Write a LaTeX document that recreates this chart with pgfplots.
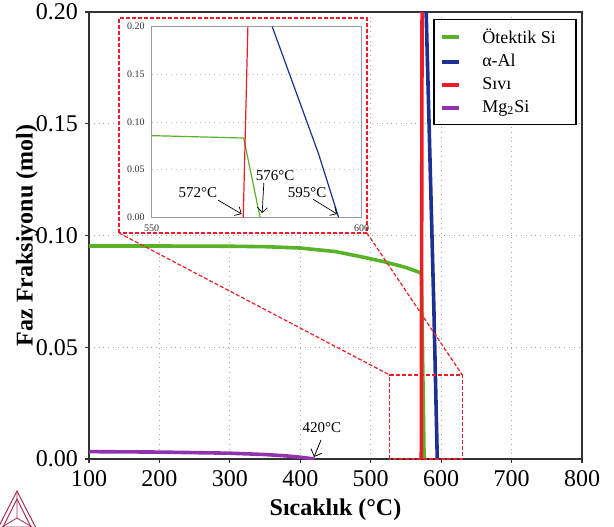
\documentclass[border=0pt]{standalone}
\usepackage{fontspec}
\setmainfont{Liberation Serif}
\usepackage{pgfplots}
\pgfplotsset{compat=1.18}
\usetikzlibrary{arrows.meta}
\definecolor{cgreen}{RGB}{88,178,42}
\definecolor{cblue}{RGB}{30,48,145}
\definecolor{cred}{RGB}{235,30,40}
\definecolor{cpurple}{RGB}{145,50,175}
\definecolor{clogo}{RGB}{170,45,90}

\begin{document}
\begin{tikzpicture}
\path[use as bounding box] (-44.5pt,-33.5pt) rectangle (262.5pt,229.5pt);

% main axis
\begin{axis}[
  scale only axis, width=246.5pt, height=223.5pt,
  xmin=100, xmax=800, ymin=0, ymax=0.2,
  xtick={100,200,300,400,500,600,700,800},
  ytick={0,0.05,0.10,0.15,0.20},
  xtick pos=left, ytick pos=left,
  tick align=outside, major tick length=2pt,
  tick style={black!80, line width=0.6pt},
  axis line style={black!80, line width=0.8pt},
  grid=major,
  grid style={gray!70, dotted, line width=0.4pt},
  ticklabel style={font=\fontsize{12}{14}\selectfont},
  /pgf/number format/assume math mode=true,
  yticklabel style={/pgf/number format/.cd, fixed, fixed zerofill, precision=2},
  xlabel={\textbf{Sıcaklık (°C)}},
  ylabel={\textbf{Faz Fraksiyonu (mol)}},
  label style={font=\fontsize{12}{14}\selectfont},
  xlabel style={at={(axis description cs:0.5,-0.114)}, anchor=center},
  ylabel style={at={(axis description cs:-0.1258,0.5)}, anchor=center},
  legend style={at={(rel axis cs:0.99,0.985)}, anchor=north east,
    draw=black, line width=0.8pt, inner xsep=3pt, inner ysep=2.5pt,
    font=\fontsize{9}{10}\selectfont, cells={anchor=west},
    column sep=8.5pt, row sep=0pt},
  legend image code/.code={\draw[#1,line width=2pt] (0pt,0pt) -- (8.5pt,0pt);},
  legend cell align=left,
]
\addplot[cgreen, line width=1.8pt] coordinates {
  (100,0.0953)(200,0.0953)(300,0.0952)(350,0.0950)(400,0.0944)(450,0.0928)
  (485,0.0906)(520,0.0882)(550,0.0857)(571.9,0.0832)(575.8,0)};
\addlegendentry{\makebox[42pt][l]{Ötektik Si}}
\addplot[cblue, line width=1.8pt] coordinates {
  (594.5,0)(589.7,0.067)(578.7,0.2)};
\addlegendentry{α-Al}
\addplot[cred, line width=1.8pt] coordinates {
  (571.8,0)(572.9,0.2)};
\addlegendentry{Sıvı}
\addplot[cpurple, line width=1.8pt] coordinates {
  (100,0.0033)(200,0.0031)(300,0.0026)(350,0.0020)(380,0.0014)(400,0.0008)(420,0)};
\addlegendentry{Mg\textsubscript{2}Si}

\node[font=\fontsize{7.5}{9}\selectfont] at (axis cs:430.8,0.0139) {420°C};
\draw[-{Straight Barb[length=3pt]}, line width=0.4pt] (axis cs:429.4,0.0085) -- (axis cs:419.5,0.0009);

\draw[cred, dash pattern=on 2pt off 1pt, line width=0.6pt] (axis cs:527,0) rectangle (axis cs:630,0.0376);
\coordinate (bl) at (axis cs:527,0.0376);
\coordinate (br) at (axis cs:630,0.0376);
\end{axis}

% zoom frame and connectors
\draw[cred, dash pattern=on 2pt off 1pt, line width=0.6pt] (15pt,113pt) -- (bl);
\draw[cred, dash pattern=on 2pt off 1pt, line width=0.6pt] (139pt,113pt) -- (br);
\draw[cred, dash pattern=on 2pt off 1pt, line width=0.6pt, fill=white] (15pt,113pt) rectangle (139pt,220.5pt);

% inset
\begin{axis}[
  at={(31.35pt,120.85pt)}, anchor=south west,
  scale only axis, width=105pt, height=95.3pt,
  xmin=550, xmax=600, ymin=0, ymax=0.2,
  xtick={550,600}, ytick={0,0.05,0.10,0.15,0.20},
  major tick length=0pt,
  axis line style={gray!80, line width=0.5pt},
  ymajorgrids, grid style={gray!50, dotted, line width=0.3pt},
  ticklabel style={font=\fontsize{5}{6}\selectfont, text=black!80},
  /pgf/number format/assume math mode=true,
  yticklabel style={/pgf/number format/.cd, fixed, fixed zerofill, precision=2},
  xticklabel style={/pgf/number format/.cd, set thousands separator={}},
]
\addplot[cgreen, line width=0.6pt] coordinates {(550,0.0857)(571.9,0.0832)(575.8,0)};
\addplot[cblue, line width=0.6pt] coordinates {(594.5,0)(589.7,0.067)(578.7,0.2)};
\addplot[cred, line width=0.6pt] coordinates {(571.8,0)(572.9,0.2)};

\node[font=\fontsize{7.5}{9}\selectfont] at (axis cs:561.0,0.0255) {572°C};
\draw[-{Straight Barb[length=2.5pt]}, line width=0.35pt] (axis cs:565.8,0.018) -- (axis cs:571.4,0.0035);
\node[font=\fontsize{7.5}{9}\selectfont] at (axis cs:579.4,0.0433) {576°C};
\draw[-{Straight Barb[length=2.5pt]}, line width=0.35pt] (axis cs:576.7,0.036) -- (axis cs:576.3,0.0045);
\node[font=\fontsize{7.5}{9}\selectfont] at (axis cs:587.0,0.0255) {595°C};
\draw[-{Straight Barb[length=2.5pt]}, line width=0.35pt] (axis cs:588.4,0.019) -- (axis cs:594.1,0.0035);
\end{axis}

% logo
\draw[clogo, line width=0.5pt] (-36pt,-16pt) -- (-46pt,-35.5pt) -- (-26pt,-35.5pt) -- cycle;
\draw[clogo, line width=0.5pt] (-36pt,-20pt) -- (-43pt,-34pt) -- (-29pt,-34pt) -- cycle;
\draw[clogo, line width=0.4pt] (-36pt,-16pt) -- (-36pt,-29.5pt) -- (-46pt,-35.5pt) (-36pt,-29.5pt) -- (-26pt,-35.5pt);
\end{tikzpicture}
\end{document}
